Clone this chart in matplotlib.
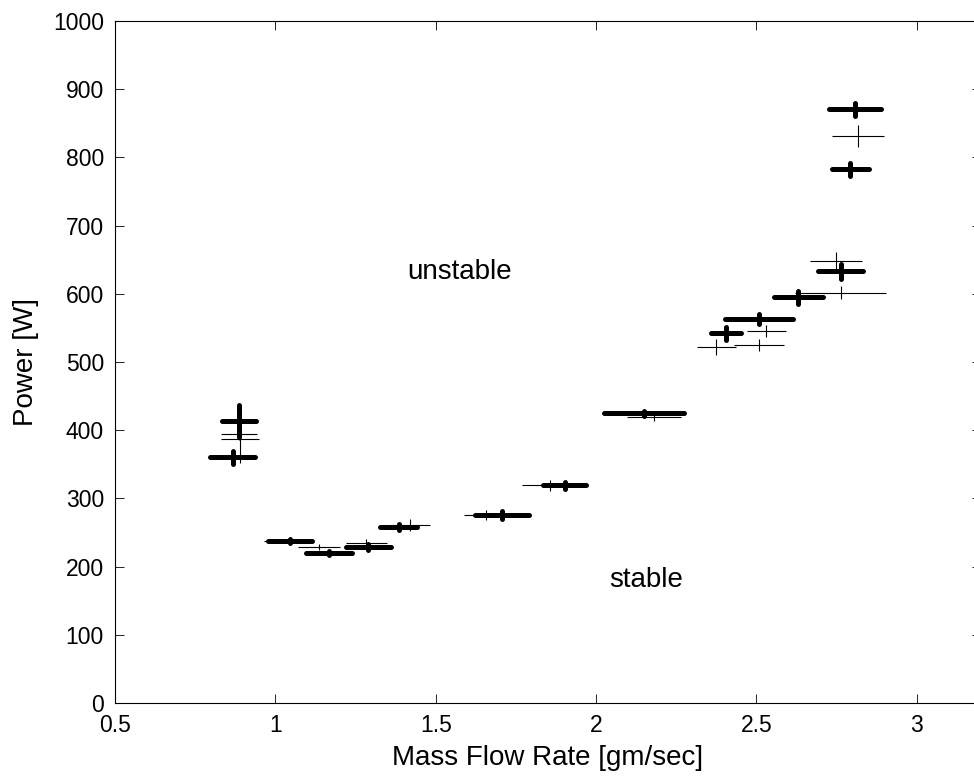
import numpy as np
import matplotlib
matplotlib.use("Agg")
import matplotlib.pyplot as plt
from matplotlib.ticker import FuncFormatter

plt.rcParams['font.family'] = ['Liberation Sans', 'DejaVu Sans']

# thick crosses (mass flow, power, half widths)
thick_x = [0.887, 0.867, 1.046, 1.166, 1.290, 1.384, 1.707, 1.902, 2.150,
           2.406, 2.508, 2.631, 2.762, 2.793, 2.807]
thick_y = [413.5, 360, 237.5, 220.4, 229, 258, 275.5, 319, 424.8,
           542, 563, 595, 633.4, 782.5, 870.5]
thick_xerr = [0.054, 0.070, 0.068, 0.072, 0.069, 0.059, 0.084, 0.067, 0.124,
              0.047, 0.106, 0.075, 0.071, 0.059, 0.081]
thick_yerr = [23, 9, 3, 3, 4.5, 4.5, 6, 5.5, 3.5,
              10, 7, 9.5, 11, 10, 9.5]

# thin crosses
thin_x = [0.886, 0.889, 1.040, 1.135, 1.284, 1.420, 1.658, 1.857, 2.181,
          2.375, 2.508, 2.531, 2.749, 2.762, 2.817]
thin_y = [395, 387, 238, 228.7, 235, 261, 275.7, 319, 419,
          521.5, 525, 545.5, 648, 601.6, 831]
thin_xerr = [0.056, 0.060, 0.077, 0.065, 0.065, 0.061, 0.070, 0.087, 0.084,
             0.060, 0.078, 0.060, 0.081, 0.143, 0.081]
thin_yerr = [10, 35, 3, 5, 6, 8.8, 8, 7.8, 5,
             11.5, 9, 9, 12.7, 9.3, 16.4]

fig = plt.figure(figsize=(9.74, 7.82), dpi=100)
# right edge of the axes runs a little past the figure (cropped original)
ax = fig.add_axes([115 / 974, 1 - 703 / 782, (981 - 115) / 974, (703 - 21) / 782])

eb = ax.errorbar(thick_x, thick_y, xerr=thick_xerr, yerr=thick_yerr, fmt='none',
                 ecolor='black', elinewidth=3.6, capsize=0)
for lc in eb[2]:
    lc.set_capstyle('round')
ax.errorbar(thin_x, thin_y, xerr=thin_xerr, yerr=thin_yerr, fmt='none',
            ecolor='black', elinewidth=0.8, capsize=0)

ax.text(1.41, 632, 'unstable', fontsize=20, va='center', ha='left')
ax.text(2.04, 180, 'stable', fontsize=20, va='center', ha='left')

ax.set_xlim(0.5, 3.2)
ax.set_ylim(0, 1000)
ax.set_xticks(np.arange(0.5, 3.01, 0.5))
ax.set_yticks(np.arange(0, 1001, 100))
ax.xaxis.set_major_formatter(FuncFormatter(lambda v, p: f"{v:g}"))
ax.tick_params(direction='in', length=6.5, width=0.6, top=True, right=True,
               labelsize=16.5, pad=8)
for s in ax.spines.values():
    s.set_linewidth(0.8)

ax.set_xlabel('Mass Flow Rate [gm/sec]', fontsize=20, labelpad=6)
ax.set_ylabel('Power [W]', fontsize=20, labelpad=10)

fig.savefig('out.png', dpi=100)
